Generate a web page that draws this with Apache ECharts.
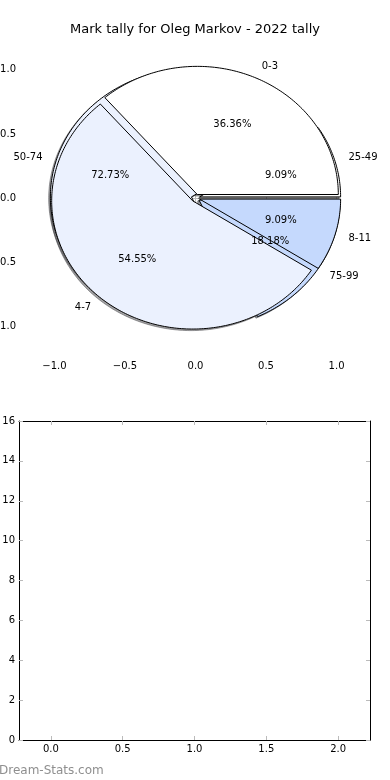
<!DOCTYPE html>
<html><head><meta charset="utf-8">
<script src="https://cdn.jsdelivr.net/npm/echarts@6/dist/echarts.min.js"></script>
<style>html,body{margin:0;padding:0;background:#fff}#c{width:390px;height:780px}</style>
</head><body><div id="c"></div>
<script>
const titleText = 'Mark tally for Oleg Markov - 2022 tally';
const firstCategories = ['0-3', '4-7', '8-11'];
const firstCounts = [4, 6, 1];
const secondCategories = ['25-49', '50-74', '75-99'];
const secondCounts = [1, 8, 2];
const pieTicks = [-1.0, -0.5, 0.0, 0.5, 1.0];
const barXTicks = [0.0, 0.5, 1.0, 1.5, 2.0];
const barYTicks = [0, 2, 4, 6, 8, 10, 12, 14, 16];

const FONT = 'DejaVu Sans';
const sliceColors = ['#ffffff', '#ebf1fe', '#c5d9fd'];
const EXPLODE = 0.03;
const SH = -0.012;

function geom(counts) {
  const tot = counts.reduce((a, b) => a + b, 0);
  let s = 0;
  return counts.map(c => { const t1 = s, t2 = s + 360 * c / tot; s = t2; return { t1, t2, mid: (t1 + t2) / 2, pct: 100 * c / tot }; });
}
const gFirst = geom(firstCounts);
const gSecond = geom(secondCounts);

function wedgePoints(api, g, dx, dy) {
  const m = g.mid * Math.PI / 180;
  const cx = EXPLODE * Math.cos(m) + dx, cy = EXPLODE * Math.sin(m) + dy;
  const pts = [api.coord([cx, cy])];
  const n = Math.max(2, Math.ceil(g.t2 - g.t1));
  for (let k = 0; k <= n; k++) {
    const a = (g.t1 + (g.t2 - g.t1) * k / n) * Math.PI / 180;
    pts.push(api.coord([cx + Math.cos(a), cy + Math.sin(a)]));
  }
  return pts;
}
function shadowColor(hex) {
  const r = parseInt(hex.slice(1, 3), 16) * 0.3, g = parseInt(hex.slice(3, 5), 16) * 0.3, b = parseInt(hex.slice(5, 7), 16) * 0.3;
  return 'rgba(' + Math.round(r) + ',' + Math.round(g) + ',' + Math.round(b) + ',0.5)';
}
const allGeoms = gSecond.concat(gFirst);
const allCats = secondCategories.concat(firstCategories);
const fmt = v => (Math.abs(v) < 1e-9 ? 0 : v).toFixed(1).replace('-', '\u2212');

function wedgeSeries(g, cats, z) {
  return {
    type: 'custom', xAxisIndex: 0, yAxisIndex: 0, z: z, silent: true,
    data: cats.map((c, i) => ({ name: c, value: [0, 0] })),
    renderItem: (params, api) => {
      const i = params.dataIndex;
      return { type: 'polygon', shape: { points: wedgePoints(api, g[i], 0, 0) },
        style: { fill: sliceColors[i], stroke: '#000', lineWidth: 1 } };
    }
  };
}

const option = {
  animation: false,
  backgroundColor: '#fff',
  title: { text: titleText, left: 'center', top: 23, padding: 0,
    textStyle: { fontSize: 13, fontWeight: 'normal', color: '#000', fontFamily: FONT } },
  graphic: [{ type: 'text', left: -1, top: 765, style: { text: 'Dream-Stats.com', fill: '#8f8f8f', font: '12px "DejaVu Sans"' } }],
  grid: [
    { left: 22, right: 21, top: 40, height: 316, outerBoundsMode: 'none', containLabel: false },
    { left: 19, right: 20, top: 421, bottom: 40, outerBoundsMode: 'none', containLabel: false }
  ],
  xAxis: [
    { gridIndex: 0, type: 'value', min: -1.23, max: 1.23, position: 'bottom',
      axisLine: { show: false }, splitLine: { show: false },
      axisTick: { show: true, inside: true, length: 4, lineStyle: { color: '#bbb' }, customValues: pieTicks },
      axisLabel: { customValues: pieTicks, formatter: fmt, margin: 5, fontSize: 10, color: '#000', fontFamily: FONT } },
    { gridIndex: 0, type: 'value', min: -1.23, max: 1.23, position: 'top',
      axisLine: { show: false }, splitLine: { show: false }, axisLabel: { show: false },
      axisTick: { show: true, inside: true, length: 4, lineStyle: { color: '#bbb' }, customValues: pieTicks } },
    { gridIndex: 1, type: 'value', min: -0.222, max: 2.222, position: 'bottom',
      axisLine: { show: true, onZero: false, lineStyle: { color: '#000', width: 1 } }, splitLine: { show: false },
      axisTick: { show: true, inside: true, length: 4, lineStyle: { color: '#bbb' }, customValues: barXTicks },
      axisLabel: { customValues: barXTicks, formatter: fmt, margin: 4, fontSize: 10, color: '#000', fontFamily: FONT } },
    { gridIndex: 1, type: 'value', min: -0.222, max: 2.222, position: 'top',
      axisLine: { show: true, onZero: false, lineStyle: { color: '#000', width: 1 } }, splitLine: { show: false }, axisLabel: { show: false },
      axisTick: { show: true, inside: true, length: 4, lineStyle: { color: '#bbb' }, customValues: barXTicks } }
  ],
  yAxis: [
    { gridIndex: 0, type: 'value', min: -1.233, max: 1.233, position: 'left',
      axisLine: { show: false }, splitLine: { show: false },
      axisTick: { show: true, inside: true, length: 4, lineStyle: { color: '#bbb' }, customValues: pieTicks },
      axisLabel: { customValues: pieTicks, formatter: fmt, margin: 6, fontSize: 10, color: '#000', fontFamily: FONT } },
    { gridIndex: 0, type: 'value', min: -1.233, max: 1.233, position: 'right',
      axisLine: { show: false }, splitLine: { show: false }, axisLabel: { show: false },
      axisTick: { show: true, inside: true, length: 4, lineStyle: { color: '#bbb' }, customValues: pieTicks } },
    { gridIndex: 1, type: 'value', min: 0, max: 16, position: 'left',
      axisLine: { show: true, onZero: false, lineStyle: { color: '#000', width: 1 } }, splitLine: { show: false },
      axisTick: { show: true, inside: true, length: 4, lineStyle: { color: '#bbb' }, customValues: barYTicks },
      axisLabel: { customValues: barYTicks, margin: 4, fontSize: 10, color: '#000', fontFamily: FONT } },
    { gridIndex: 1, type: 'value', min: 0, max: 16, position: 'right',
      axisLine: { show: true, onZero: false, lineStyle: { color: '#000', width: 1 } }, splitLine: { show: false }, axisLabel: { show: false },
      axisTick: { show: true, inside: true, length: 4, lineStyle: { color: '#bbb' }, customValues: barYTicks } }
  ],
  series: [
    { type: 'custom', xAxisIndex: 0, yAxisIndex: 0, z: 1, silent: true,
      data: allCats.map(c => ({ name: c, value: [0, 0] })),
      renderItem: (params, api) => {
        const i = params.dataIndex;
        const col = shadowColor(sliceColors[i % 3]);
        return { type: 'polygon', shape: { points: wedgePoints(api, allGeoms[i], SH, SH) },
          style: { fill: col, stroke: col, lineWidth: 1 } };
      } },
    wedgeSeries(gSecond, secondCategories, 2),
    wedgeSeries(gFirst, firstCategories, 3),
    { type: 'custom', xAxisIndex: 0, yAxisIndex: 0, z: 5, silent: true,
      data: allCats.map(c => ({ name: c, value: [0, 0] })),
      renderItem: (params, api) => {
        const i = params.dataIndex;
        const g = allGeoms[i];
        const m = g.mid * Math.PI / 180;
        const cx = EXPLODE * Math.cos(m), cy = EXPLODE * Math.sin(m);
        const lx = cx + 1.1 * Math.cos(m), ly = cy + 1.1 * Math.sin(m);
        const px = cx + 0.6 * Math.cos(m), py = cy + 0.6 * Math.sin(m);
        const lp = api.coord([lx, ly]), pp = api.coord([px, py]);
        return { type: 'group', children: [
          { type: 'text', x: lp[0], y: lp[1], style: { text: allCats[i], textAlign: lx > 0 ? 'left' : 'right', textVerticalAlign: 'middle', fontSize: 10, fontFamily: FONT, fill: '#000' } },
          { type: 'text', x: pp[0], y: pp[1], style: { text: g.pct.toFixed(2) + '%', textAlign: 'center', textVerticalAlign: 'middle', fontSize: 10, fontFamily: FONT, fill: '#000' } }
        ] };
      } }
  ]
};
const chart = echarts.init(document.getElementById('c'), null, { renderer: 'canvas' });
chart.setOption(option);
</script>
</body></html>
